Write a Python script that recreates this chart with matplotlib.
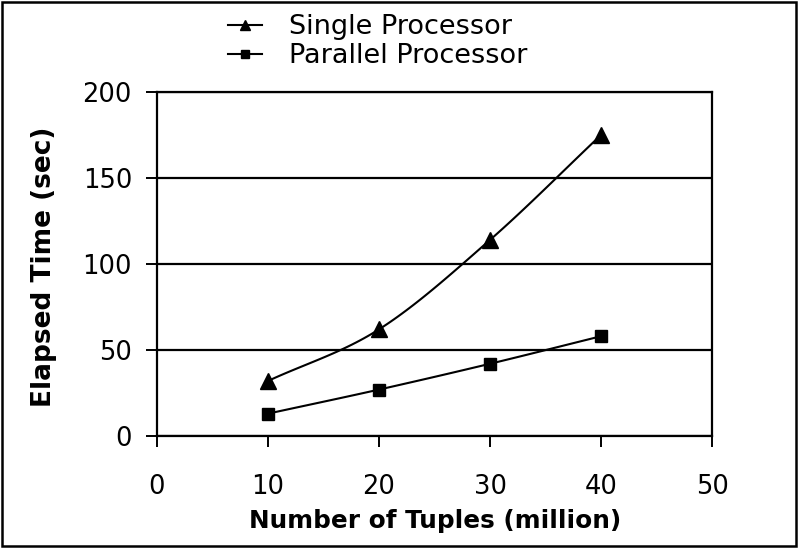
import matplotlib
matplotlib.use("Agg")
import matplotlib.pyplot as plt
import numpy as np
from matplotlib.patches import Rectangle
from matplotlib.lines import Line2D

# ---- data ----
tuples = [10, 20, 30, 40]
single = [32, 62, 114, 175]
parallel = [13, 27, 42, 58]
series_names = ["Single Processor", "Parallel Processor"]
x_ticks = [0, 10, 20, 30, 40, 50]
y_ticks = [0, 50, 100, 150, 200]

W, H = 798, 548
fig = plt.figure(figsize=(W / 100, H / 100), dpi=100)
plt.rcParams['font.family'] = ['DejaVu Sans']

def fx(px):
    return px / W

def fy(py):
    return 1 - py / H

ax = fig.add_axes([fx(157), fy(436), fx(712) - fx(157), fy(92) - fy(436)])


def smooth(xs, ys, n=30):
    """Catmull-Rom smoothing through the data points (Excel-like smoothed line)."""
    xs = np.asarray(xs, float)
    ys = np.asarray(ys, float)
    px = np.concatenate([[2 * xs[0] - xs[1]], xs, [2 * xs[-1] - xs[-2]]])
    py = np.concatenate([[2 * ys[0] - ys[1]], ys, [2 * ys[-1] - ys[-2]]])
    out_x, out_y = [], []
    for i in range(1, len(px) - 2):
        t = np.linspace(0, 1, n)
        for arr, out in ((px, out_x), (py, out_y)):
            p0, p1, p2, p3 = arr[i - 1], arr[i], arr[i + 1], arr[i + 2]
            out.extend(0.5 * ((2 * p1) + (-p0 + p2) * t
                              + (2 * p0 - 5 * p1 + 4 * p2 - p3) * t ** 2
                              + (-p0 + 3 * p1 - 3 * p2 + p3) * t ** 3))
    return out_x, out_y

lw = 1.5
for vals, mk, ms in ((single, '^', 11), (parallel, 's', 8.5)):
    sx, sy = smooth(tuples, vals)
    ax.plot(sx, sy, color='black', lw=lw, zorder=3)
    ax.plot(tuples, vals, linestyle='none', marker=mk, markersize=ms,
            color='black', zorder=4)

ax.set_xlim(0, 50)
ax.set_ylim(0, 200)
ax.set_xticks(x_ticks)
ax.set_yticks(y_ticks)
ax.set_xticklabels([str(v) for v in x_ticks])
ax.set_yticklabels([str(v) for v in y_ticks])
ax.tick_params(axis='both', direction='out', length=8, width=1.4,
               color='black', labelsize=18.5, labelcolor='black')
ax.tick_params(axis='x', pad=19)
ax.tick_params(axis='y', pad=10)

ax.yaxis.grid(True, color='black', lw=1.6)
ax.set_axisbelow(True)
for s in ax.spines.values():
    s.set_color('black')
    s.set_linewidth(1.6)

fig.text(fx(435), fy(521), "Number of Tuples (million)", ha='center', va='center',
         fontsize=17.8, fontweight='bold')
fig.text(fx(44), fy(267), "Elapsed Time (sec)", ha='center', va='center',
         rotation=90, fontsize=19, fontweight='bold')

handles = [Line2D([], [], color='black', lw=lw, marker='^', markersize=7.5),
           Line2D([], [], color='black', lw=lw, marker='s', markersize=6)]
fig.legend(handles, series_names, loc='upper left',
           bbox_to_anchor=(fx(228), fy(14)), frameon=False, fontsize=19.5,
           handlelength=1.25, handletextpad=1.0, labelspacing=0.12,
           borderpad=0, borderaxespad=0)

fig.patches.append(Rectangle((fx(2), fy(546)), fx(794), 1 - fy(544),
                             transform=fig.transFigure, fill=False,
                             edgecolor='black', lw=1.8))

fig.savefig("out.png", dpi=100)
